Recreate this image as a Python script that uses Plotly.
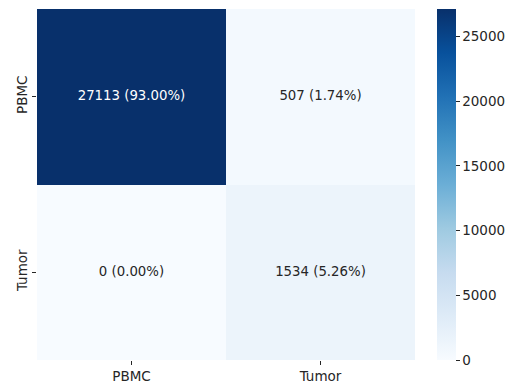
import plotly.graph_objects as go

labels = ["PBMC", "Tumor"]
counts = [[27113, 507], [0, 1534]]
colorbar_ticks = [0, 5000, 10000, 15000, 20000, 25000]

total = sum(sum(r) for r in counts)
blues = ["rgb(247,251,255)", "rgb(222,235,247)", "rgb(198,219,239)", "rgb(158,202,225)",
         "rgb(107,174,214)", "rgb(66,146,198)", "rgb(33,113,181)", "rgb(8,81,156)", "rgb(8,48,107)"]
cs = [[i / (len(blues) - 1), c] for i, c in enumerate(blues)]
zmax = max(max(r) for r in counts)

fig = go.Figure()
fig.add_trace(go.Heatmap(
    z=counts, x=labels, y=labels, colorscale=cs, zmin=0, zmax=zmax,
    xgap=0, ygap=0, hoverinfo="skip",
    colorbar=dict(thickness=19, len=1, lenmode="fraction", y=0.5, yanchor="middle",
                  x=1.058, xanchor="left", outlinewidth=0, xpad=0, ypad=0,
                  tickvals=colorbar_ticks, ticktext=[str(t) for t in colorbar_ticks],
                  ticks="outside", ticklen=4, tickwidth=1,
                  tickcolor="#262626", tickfont=dict(family="DejaVu Sans", size=13.5, color="#262626")),
))

xs, ys, txt, cols = [], [], [], []
for i, row in enumerate(counts):
    for j, v in enumerate(row):
        xs.append(labels[j]); ys.append(labels[i])
        txt.append(f"{v} ({v / total * 100:.2f}%)")
        cols.append("#ffffff" if v > zmax * 0.5 else "#262626")
fig.add_trace(go.Scatter(x=xs, y=ys, mode="text", text=txt,
                         textfont=dict(family="DejaVu Sans", size=13.3, color=cols),
                         hoverinfo="skip", showlegend=False))

fig.update_layout(
    width=508, height=384, margin=dict(l=37, r=93, t=9, b=24, autoexpand=False),
    plot_bgcolor="white", paper_bgcolor="white", showlegend=False,
    font=dict(family="DejaVu Sans", size=13.5, color="#262626"),
)
fig.update_xaxes(showgrid=False, zeroline=False, showline=False, ticks="outside", ticklen=4,
                 tickcolor="#262626", tickfont=dict(size=13.5), range=[-0.5, 1.5], automargin=False)
fig.update_yaxes(showgrid=False, zeroline=False, showline=False, ticks="outside", ticklen=4,
                 tickcolor="#262626", tickangle=-90, tickfont=dict(size=13.5),
                 range=[1.5, -0.5], automargin=False)
fig.write_html("out.html")
